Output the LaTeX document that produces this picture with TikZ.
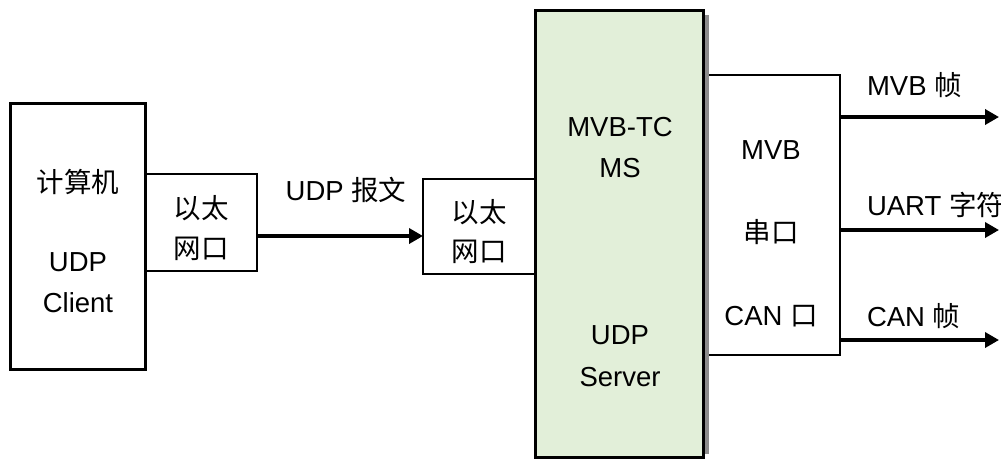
\documentclass[tikz,border=0pt]{standalone}
\usepackage{fontspec}
\setmainfont{Liberation Sans}
\newfontfamily\cjk{Noto Sans CJK SC}
\usetikzlibrary{arrows.meta}
\definecolor{msgreen}{HTML}{E2EFD9}
\begin{document}
\begin{tikzpicture}[x=1pt,y=-1pt,
  every node/.style={font=\fontsize{27.5}{32}\selectfont, inner sep=0pt, outer sep=0pt},
  thickbox/.style={draw, line width=3pt, fill=white},
  thinbox/.style={draw, line width=1.3pt, fill=white},
  lbl/.style={anchor=center},
  arr/.style={line width=4pt, -{Triangle[length=14pt,width=15pt]}}]
\useasboundingbox (0,0) rectangle (1001,459);
% boxes
\node[thinbox, minimum width=137pt, minimum height=280pt] (io) at (771.5,215) {};
\node[thinbox, minimum width=112pt, minimum height=97pt] (eth1) at (201,222.5) {};
\node[thinbox, minimum width=112pt, minimum height=95pt] (eth2) at (479,226.5) {};
\node[thickbox, minimum width=135pt, minimum height=266pt] (pc) at (77.5,236) {};
\node[draw, line width=3pt, fill=msgreen, minimum width=168pt, minimum height=447pt] (ms) at (619,233.5) {};
\fill[gray!90] ([xshift=1.5pt,yshift=-5pt]ms.north east) rectangle ([xshift=6pt,yshift=3pt]ms.south east);
% texts
\node[lbl] (t1) at (78,182) {\cjk 计算机};
\node[lbl] (t2) at (78,262) {UDP};
\node[lbl] (t3) at (78,303) {Client};
\node[lbl] (t4) at (201,208) {\cjk 以太};
\node[lbl] (t5) at (201,249) {\cjk 网口};
\node[lbl] (t6) at (346,190) {UDP {\cjk 报文}};
\node[lbl] (t7) at (479,212) {\cjk 以太};
\node[lbl] (t8) at (479,252) {\cjk 网口};
\node[lbl] (t9) at (620,127) {MVB-TC};
\node[lbl] (t10) at (620,168) {MS};
\node[lbl] (t11) at (620,335) {UDP};
\node[lbl] (t12) at (620,377) {Server};
\node[lbl] (t13) at (771,150) {MVB};
\node[lbl] (t14) at (771,232) {\cjk 串口};
\node[lbl] (t15) at (771,316) {CAN {\cjk 口}};
\node[anchor=west] (t16) at (867,85) {MVB {\cjk 帧}};
\node[anchor=west] (t17) at (867,205) {UART {\cjk 字符}};
\node[anchor=west] (t18) at (867,316) {CAN {\cjk 帧}};
% connectors
\coordinate (o1) at (999,117);
\coordinate (o2) at (999,230);
\coordinate (o3) at (999,340);
\draw[arr] (eth1.east |- 0,236) -- (eth2.west |- 0,236);
\draw[arr] (io.east |- o1) -- (o1);
\draw[arr] (io.east |- o2) -- (o2);
\draw[arr] (io.east |- o3) -- (o3);
\end{tikzpicture}
\end{document}
